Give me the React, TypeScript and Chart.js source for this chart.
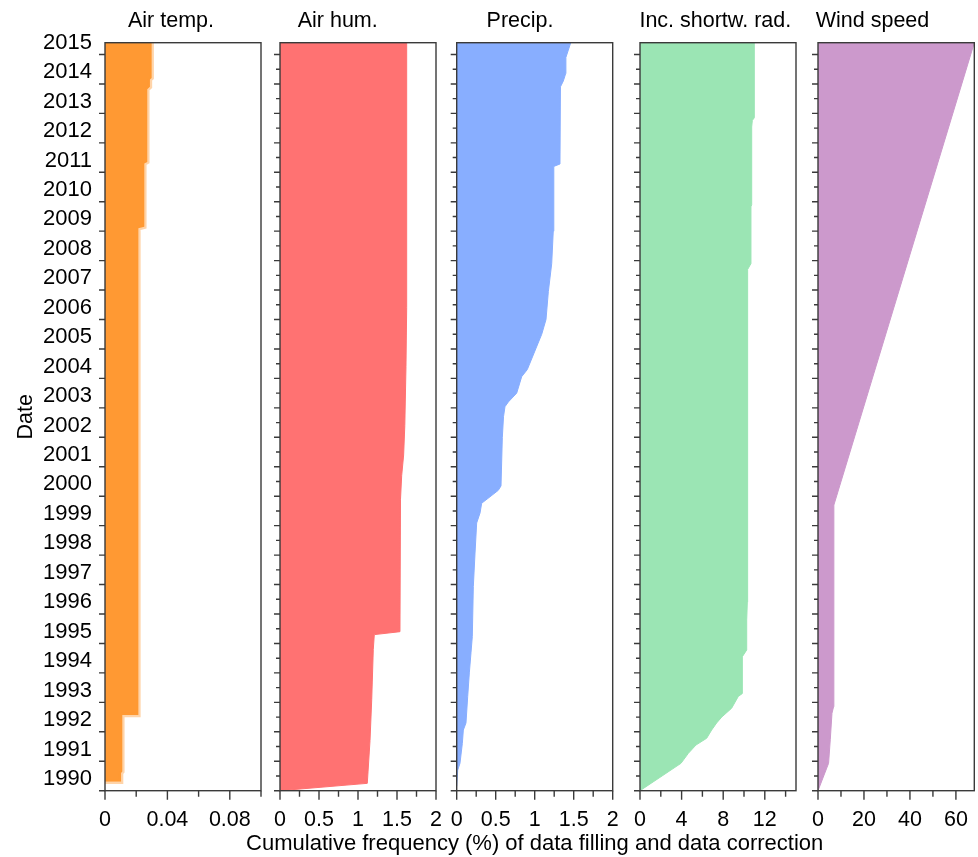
import React, { useEffect, useRef } from 'react';
import { Chart, registerables } from 'chart.js';

Chart.register(...registerables);

const FONT = "'Liberation Sans', Arial, Helvetica, sans-serif";
Chart.defaults.font.family = FONT;
Chart.defaults.color = '#000';

const CANVAS_W = 978;
const CANVAS_H = 857;

// ---------- axis data ----------
const yearLabels = [
  1990, 1991, 1992, 1993, 1994, 1995, 1996, 1997, 1998, 1999, 2000, 2001, 2002,
  2003, 2004, 2005, 2006, 2007, 2008, 2009, 2010, 2011, 2012, 2013, 2014, 2015,
];
const dateMin = 1989.6;
const dateMax = 2015.0;

const xTitle = 'Cumulative frequency (%) of data filling and data correction';
const yTitle = 'Date';

// ---------- series (date in decimal years, cumulative frequency in %) ----------
const airTempDate = [1989.9, 1989.9, 1990.2, 1990.25, 1992.17, 1992.17, 2008.7, 2008.75, 2010.9, 2010.95, 2013.42, 2013.5, 2013.75, 2013.8, 2015.0];
const airTempFreq = [0, 0.0103, 0.0103, 0.0111, 0.0111, 0.0214, 0.0214, 0.0252, 0.0252, 0.0271, 0.0271, 0.0288, 0.0288, 0.0299, 0.0299];

const airHumDate = [1989.6, 1989.85, 1991.3, 1992.7, 1994.4, 1994.9, 1995.0, 1999.5, 2000.3, 2001.0, 2002.0, 2004.0, 2006.0, 2015.0];
const airHumFreq = [0, 1.119, 1.154, 1.176, 1.196, 1.209, 1.538, 1.545, 1.56, 1.585, 1.6, 1.615, 1.624, 1.624];

const precipDate = [
  1989.75, 1990.3, 1990.53, 1991.2, 1991.66, 1991.9, 1992.8, 1993.6, 1994.28, 1994.83,
  1996.53, 1997.67, 1998.69, 1999.03, 1999.36, 1999.58, 1999.8, 1999.95, 2001.6, 2002.3,
  2002.64, 2002.8, 2003.1, 2003.66, 2003.9, 2005.1, 2005.6, 2006.55, 2007.5, 2008.6,
  2010.8, 2010.88, 2013.5, 2013.7, 2013.95, 2014.5, 2014.75, 2015.0,
];
const precipFreq = [
  0, 0.013, 0.042, 0.072, 0.085, 0.119, 0.141, 0.162, 0.183, 0.2,
  0.213, 0.235, 0.256, 0.299, 0.32, 0.427, 0.533, 0.568, 0.585, 0.6,
  0.619, 0.662, 0.769, 0.833, 0.905, 1.09, 1.145, 1.175, 1.218, 1.238,
  1.245, 1.324, 1.33, 1.367, 1.397, 1.4, 1.431, 1.462,
];

const radDate = [
  1989.6, 1990.53, 1990.87, 1991.15, 1991.38, 1991.66, 1991.9, 1992.1, 1992.4, 1992.8,
  1992.9, 1994.15, 1994.38, 1995.4, 1996.0, 2007.3, 2007.5, 2009.43, 2009.5, 2012.14,
  2012.36, 2012.45, 2015.0,
];
const radFreq = [
  0, 3.94, 4.65, 5.38, 6.41, 6.89, 7.37, 7.86, 8.81, 9.45,
  9.84, 9.84, 10.26, 10.26, 10.32, 10.35, 10.67, 10.67, 10.74, 10.74,
  10.8, 10.99, 10.99,
];

const windDate = [1989.6, 1990.53, 1991.33, 1992.23, 1992.45, 1999.3, 2015.0];
const windFreq = [0, 4.6, 5.34, 6.08, 6.77, 6.9, 68];

// ---------- x tick values / labels ----------
const airTempTicks = [0, 0.02, 0.04, 0.06, 0.08, 0.1];
const airTempTickLabels = ['0', '', '0.04', '', '0.08', ''];
const airHumTicks = [0, 0.25, 0.5, 0.75, 1, 1.25, 1.5, 1.75, 2];
const airHumTickLabels = ['0', '', '0.5', '', '1', '', '1.5', '', '2'];
const precipTicks = [0, 0.25, 0.5, 0.75, 1, 1.25, 1.5, 1.75, 2];
const precipTickLabels = ['0', '', '0.5', '', '1', '', '1.5', '', '2'];
const radTicks = [0, 2, 4, 6, 8, 10, 12, 14];
const radTickLabels = ['0', '', '4', '', '8', '', '12', ''];
const windTicks = [0, 10, 20, 30, 40, 50, 60];
const windTickLabels = ['0', '', '20', '', '40', '', '60'];

type Panel = {
  title: string;
  dates: number[];
  freq: number[];
  xMax: number;
  xTicks: number[];
  xTickLabels: string[];
  fill: string;
  stroke: string;
  strokeWidth: number;
  left: number;
  right: number;
  titleCenter: number;
  first: boolean;
};

const panels: Panel[] = [
  { title: 'Air temp.', dates: airTempDate, freq: airTempFreq, xMax: 0.1, xTicks: airTempTicks, xTickLabels: airTempTickLabels,
    fill: '#FF9933', stroke: 'rgba(255,153,51,0.42)', strokeWidth: 4.5, left: 105, right: 261, titleCenter: 171, first: true },
  { title: 'Air hum.', dates: airHumDate, freq: airHumFreq, xMax: 2, xTicks: airHumTicks, xTickLabels: airHumTickLabels,
    fill: '#FF7272', stroke: '#FF7272', strokeWidth: 1, left: 280, right: 436, titleCenter: 337.7, first: false },
  { title: 'Precip.', dates: precipDate, freq: precipFreq, xMax: 2, xTicks: precipTicks, xTickLabels: precipTickLabels,
    fill: '#88AEFF', stroke: '#88AEFF', strokeWidth: 1, left: 456.7, right: 612.7, titleCenter: 520, first: false },
  { title: 'Inc. shortw. rad.', dates: radDate, freq: radFreq, xMax: 15, xTicks: radTicks, xTickLabels: radTickLabels,
    fill: '#9BE5B4', stroke: '#9BE5B4', strokeWidth: 1, left: 640, right: 796, titleCenter: 715.3, first: false },
  { title: 'Wind speed', dates: windDate, freq: windFreq, xMax: 68, xTicks: windTicks, xTickLabels: windTickLabels,
    fill: '#CC99CC', stroke: '#CC99CC', strokeWidth: 1, left: 818, right: 974.3, titleCenter: 872.5, first: false },
];

const PLOT_TOP = 42.7;
const PLOT_BOTTOM = 790.7;
const X_AXIS_H = 66;
const TITLE_FONT = 21.5;
const TITLE_PAD_TOP = 8.1;
const X_TITLE_CENTER = 534.7;
const X_TITLE_HALF_SPAN = 330;

const framePlugin = {
  id: 'frame',
  afterDraw(chart: any, _args: any, opts: any) {
    const { ctx, chartArea: a, scales } = chart;
    ctx.save();
    ctx.strokeStyle = '#3a3a3a';
    ctx.lineWidth = 1.4;
    ctx.strokeRect(a.left, a.top, a.right - a.left, a.bottom - a.top);
    const ys = scales.y;
    const xs = scales.x;
    ctx.beginPath();
    for (const v of opts.yLong) {
      const p = ys.getPixelForValue(v);
      ctx.moveTo(a.left - 6, p);
      ctx.lineTo(a.left, p);
    }
    for (const v of opts.yShort) {
      const p = ys.getPixelForValue(v);
      ctx.moveTo(a.left - 4, p);
      ctx.lineTo(a.left, p);
    }
    xs.ticks.forEach((t: any, i: number) => {
      const p = xs.getPixelForValue(t.value);
      const len = opts.xLabels[i] ? 9 : 6;
      ctx.moveTo(p, a.bottom);
      ctx.lineTo(p, a.bottom + len);
    });
    ctx.stroke();
    ctx.restore();
  },
};

function PanelChart({ panel }: { panel: Panel }) {
  const ref = useRef<HTMLCanvasElement | null>(null);
  useEffect(() => {
    const p = panel;
    let padL: number;
    let rb: number;
    if (p.first) {
      padL = 8;
      rb = 2 * p.titleCenter - padL;
    } else {
      rb = p.right;
      padL = 2 * p.titleCenter - rb;
      if (padL > p.left) {
        padL = p.left;
        rb = 2 * p.titleCenter - padL;
      }
    }
    const padB = CANVAS_H - PLOT_BOTTOM - X_AXIS_H;
    const titleLH = TITLE_FONT * 1.2;
    const titlePadBottom = PLOT_TOP - TITLE_PAD_TOP - titleLH;

    const yLong = yearLabels.map((y) => y - 0.4);
    const yShort = p.first ? [] : yearLabels.slice(0, -1).map((y) => y + 0.1);

    const chart = new Chart(ref.current as HTMLCanvasElement, {
      type: 'line',
      data: {
        datasets: [
          {
            data: p.dates.map((d, i) => ({ x: p.freq[i], y: d })),
            fill: 'origin',
            backgroundColor: p.fill,
            borderColor: p.stroke,
            borderWidth: p.strokeWidth,
            pointRadius: 0,
            tension: 0,
          },
        ],
      },
      options: {
        indexAxis: 'y',
        responsive: false,
        animation: false,
        events: [],
        layout: { padding: { left: padL, right: CANVAS_W - rb, top: 0, bottom: padB } },
        plugins: {
          legend: { display: false },
          tooltip: { enabled: false },
          title: {
            display: true,
            text: p.title,
            color: '#000',
            font: { size: TITLE_FONT, weight: 'normal' },
            padding: { top: TITLE_PAD_TOP, bottom: titlePadBottom },
          },
          frame: { yLong, yShort, xLabels: p.xTickLabels },
        } as any,
        scales: {
          x: {
            type: 'linear',
            position: 'bottom',
            min: 0,
            max: p.xMax,
            afterBuildTicks: (s: any) => {
              s.ticks = p.xTicks.map((v) => ({ value: v }));
            },
            afterFit: (s: any) => {
              s.height = X_AXIS_H;
            },
            grid: { display: true, drawOnChartArea: false, drawTicks: true, tickLength: 16, tickColor: 'rgba(0,0,0,0)' },
            border: { display: false },
            ticks: {
              autoSkip: false,
              maxRotation: 0,
              minRotation: 0,
              padding: 0,
              color: '#000',
              font: { size: 21.5 },
              callback: (_v: any, i: number) => p.xTickLabels[i],
            },
          },
          y: {
            type: 'linear',
            position: 'left',
            min: dateMin,
            max: dateMax,
            afterBuildTicks: (s: any) => {
              s.ticks = yearLabels.map((v) => ({ value: v }));
            },
            afterFit: (s: any) => {
              s.width = p.left - padL;
            },
            grid: { display: false, drawTicks: false },
            border: { display: false },
            ticks: {
              display: p.first,
              autoSkip: false,
              padding: 13,
              color: '#000',
              font: { size: 22 },
              callback: (v: any) => String(v),
            },
            title: {
              display: p.first,
              text: yTitle,
              color: '#000',
              font: { size: 21.5 },
              padding: { top: 5, bottom: 0 },
            },
          },
          yr: {
            type: 'linear',
            position: 'right',
            display: true,
            afterFit: (s: any) => {
              s.width = rb - p.right;
            },
            grid: { display: false, drawTicks: false },
            border: { display: false },
            ticks: { display: false },
          },
        },
      } as any,
      plugins: [framePlugin],
    });
    return () => chart.destroy();
  }, [panel]);
  return (
    <canvas
      ref={ref}
      width={CANVAS_W}
      height={CANVAS_H}
      style={{ position: 'absolute', left: 0, top: 0, width: CANVAS_W, height: CANVAS_H }}
    />
  );
}

// Shared x-axis title spanning all panels
function SharedTitleChart() {
  const ref = useRef<HTMLCanvasElement | null>(null);
  useEffect(() => {
    const padB = CANVAS_H - PLOT_BOTTOM - X_AXIS_H;
    const left = X_TITLE_CENTER - X_TITLE_HALF_SPAN;
    const right = X_TITLE_CENTER + X_TITLE_HALF_SPAN;
    const chart = new Chart(ref.current as HTMLCanvasElement, {
      type: 'line',
      data: { datasets: [] },
      options: {
        responsive: false,
        animation: false,
        events: [],
        layout: { padding: { left, right: CANVAS_W - right, top: PLOT_TOP, bottom: padB } },
        plugins: { legend: { display: false }, tooltip: { enabled: false }, title: { display: false } },
        scales: {
          x: {
            type: 'linear',
            position: 'bottom',
            min: 0,
            max: 1,
            afterFit: (s: any) => {
              s.height = X_AXIS_H;
            },
            grid: { display: false, drawTicks: false },
            border: { display: false },
            ticks: { display: false },
            title: {
              display: true,
              text: xTitle,
              color: '#000',
              font: { size: 22 },
              padding: { top: 0, bottom: 0 },
            },
          },
          y: {
            type: 'linear',
            display: false,
            afterFit: (s: any) => {
              s.width = 0;
            },
          },
        },
      } as any,
    });
    return () => chart.destroy();
  }, []);
  return (
    <canvas
      ref={ref}
      width={CANVAS_W}
      height={CANVAS_H}
      style={{ position: 'absolute', left: 0, top: 0, width: CANVAS_W, height: CANVAS_H }}
    />
  );
}

export default function App() {
  return (
    <div
      style={{
        position: 'absolute',
        left: 0,
        top: 0,
        width: CANVAS_W,
        height: CANVAS_H,
        background: '#fff',
        overflow: 'hidden',
      }}
    >
      {panels.map((p, i) => (
        <PanelChart key={i} panel={p} />
      ))}
      <SharedTitleChart />
    </div>
  );
}
